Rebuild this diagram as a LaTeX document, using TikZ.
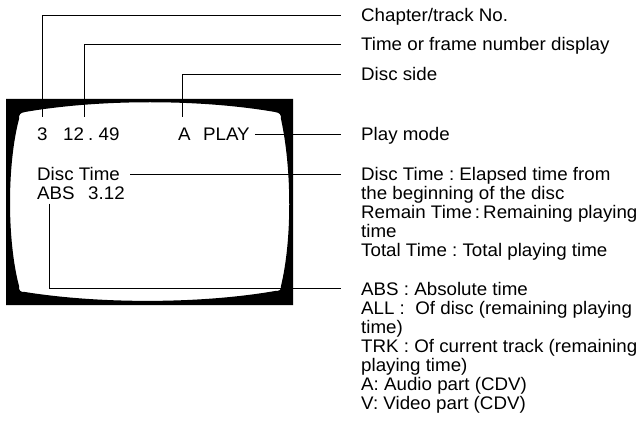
\documentclass[tikz,border=0pt]{standalone}
\usepackage{fontspec}
\setmainfont{Liberation Sans}[FakeStretch=1.03]
\newcommand\lblfont{\fontsize{18.2pt}{19pt}\selectfont\frenchspacing}
\begin{document}
\begin{tikzpicture}[x=1pt,y=-1pt,
  lbl/.style={anchor=base west, inner sep=0pt, font=\lblfont, text height=13pt, text depth=0pt},
  leader/.style={line width=0.9pt}]
\useasboundingbox (0,0) rectangle (639,430);
% TV bezel
\fill[black, even odd rule] (6,99) rectangle (293,305)
 (19,119) .. controls (19,114) and (20,113) .. (25,112)
 .. controls (100,99) and (200,99) .. (275,112)
 .. controls (280,113) and (281,114) .. (281,119)
 .. controls (292,170) and (292,240) .. (281,286)
 .. controls (281,290) and (280,291) .. (275,291)
 .. controls (200,304) and (100,304) .. (25,292)
 .. controls (20,292) and (19,291) .. (19,286)
 .. controls (7,240) and (7,165) .. (19,119) -- cycle;
% screen texts
\node[lbl] (n3) at (37,140.5) {3};
\node[lbl] (t12) at (63,140.5) {12};
\node[lbl] (t49) at (88,140.5) {. 49};
\node[lbl] (ta) at (178,140.5) {A};
\node[lbl] (tplay) at (203,140.5) {PLAY};
\node[lbl] (tdisc) at (37,180.5) {Disc Time};
\node[lbl] (tabs) at (37,199.5) {ABS};
\node[lbl] (t312) at (88,199.5) {3.12};
% right labels
\node[lbl] (l1) at (361,21.5) {Chapter/track No.};
\node[lbl] (l2) at (361,50.5) {Time or frame number display};
\node[lbl] (l3) at (361,80.5) {Disc side};
\node[lbl] (l4) at (361,140.5) {Play mode};
\node[lbl] (l5) at (361,180.5) {Disc Time : Elapsed time from};
\node[lbl] (l6) at (361,199.5) {the beginning of the disc};
\node[lbl] (l7) at (361,218.5) {Remain Time\,:\,Remaining playing};
\node[lbl] (l8) at (361,237.5) {time};
\node[lbl] (l9) at (361,256.5) {Total Time : Total playing time};
\node[lbl] (l10) at (361,295) {ABS : Absolute time};
\node[lbl] (l11) at (361,314) {ALL :\ \ Of disc (remaining playing};
\node[lbl] (l12) at (361,333) {time)};
\node[lbl] (l13) at (361,352) {TRK : Of current track (remaining};
\node[lbl] (l14) at (361,371) {playing time)};
\node[lbl] (l15) at (361,390) {A: Audio part (CDV)};
\node[lbl] (l16) at (361,409) {V: Video part (CDV)};
% leaders
\draw[leader] ([yshift=10.5pt]n3.north) |- ([xshift=-20pt]l1.west);
\draw[leader] ([yshift=10.5pt]t12.north east) |- ([xshift=-20pt]l2.west);
\draw[leader] ([xshift=-2pt,yshift=10.5pt]ta.north) |- ([xshift=-20pt]l3.west);
\draw[leader] ([xshift=5pt]tplay.east) -- ([xshift=-20pt]l4.west);
\draw[leader] ([xshift=10pt]tdisc.east) -- ([xshift=-20pt]l5.west);
\draw[leader] ([xshift=12pt,yshift=-4pt]tabs.south west) |- ([xshift=-20pt]l10.west);
\end{tikzpicture}
\end{document}
